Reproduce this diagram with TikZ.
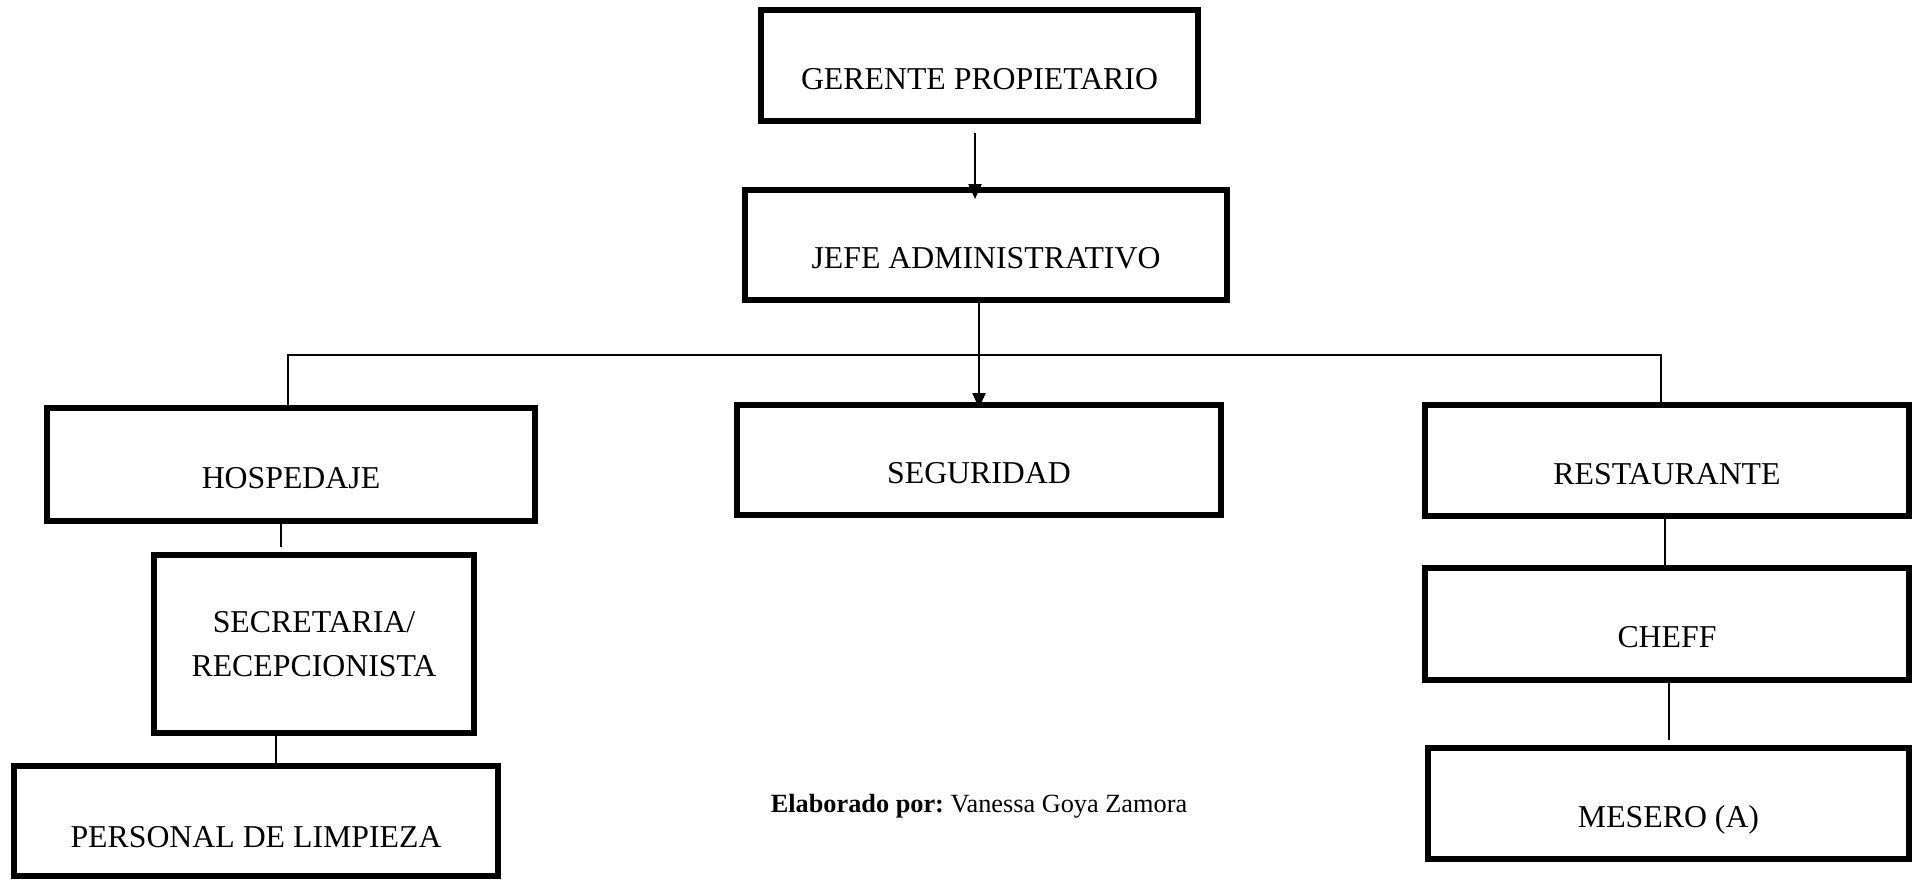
\documentclass[tikz,border=0pt]{standalone}
\usepackage{fontspec}
\setmainfont{Liberation Serif}
\usetikzlibrary{arrows.meta}
\begin{document}
\begin{tikzpicture}[x=1pt,y=-1pt,
  boxbase/.style={draw,line width=6pt,rectangle,inner sep=0pt,outer sep=0pt,
    font=\fontsize{31.8}{44}\selectfont},
  box/.style={boxbase,text height=47pt,text depth=0pt},
  conn/.style={line width=1.8pt},
  arr/.style={line width=2.2pt,-{Triangle[length=15pt,width=13pt]}}]
\useasboundingbox (0,0) rectangle (1913,879);

\node[box,minimum width=437pt,minimum height=111pt] (ger) at (979.5,65.5) {GERENTE PROPIETARIO};
\node[box,minimum width=482pt,minimum height=110pt] (jefe) at (986,245) {JEFE ADMINISTRATIVO};
\node[box,minimum width=488pt,minimum height=113pt] (hosp) at (291,464.5) {HOSPEDAJE};
\node[box,minimum width=484pt,minimum height=110pt] (seg) at (979,460) {SEGURIDAD};
\node[box,minimum width=484pt,minimum height=111pt] (rest) at (1667,460.5) {RESTAURANTE};
\node[boxbase,minimum width=320pt,minimum height=178pt,align=center] (sec) at (314,644) {SECRETARIA/\\RECEPCIONISTA};
\node[box,minimum width=484pt,minimum height=110pt,text height=52pt] (pers) at (256,821) {PERSONAL DE LIMPIEZA};
\node[box,minimum width=484pt,minimum height=112pt] (cheff) at (1667,624) {CHEFF};
\node[box,minimum width=481pt,minimum height=111pt] (mes) at (1668.5,803.5) {MESERO (A)};

\node[font=\fontsize{26.3}{30}\selectfont] (elab) at (979,806) {\textbf{Elaborado por:}\ Vanessa Goya Zamora};

\coordinate (hl) at (0,355);

\draw[arr] ([xshift=-4.5pt,yshift=-12pt]ger.south) -- ([xshift=-11pt,yshift=-9pt]jefe.north);
\draw[arr] ([xshift=-7pt]jefe.south) -- ([yshift=-3pt]seg.north);
\draw[conn] ([xshift=-3pt]hosp.north) |- ([xshift=-6pt]rest.north |- hl) -- ([xshift=-6pt]rest.north);
\draw[conn] ([xshift=-10pt]hosp.south) -- ([xshift=-33pt,yshift=8pt]sec.north);
\draw[conn] ([xshift=-38pt]sec.south) -- ([xshift=20pt]pers.north);
\draw[conn] ([xshift=-2pt]rest.south) -- ([xshift=-2pt]cheff.north);
\draw[conn] ([xshift=2pt]cheff.south) -- ([xshift=0.5pt,yshift=8pt]mes.north);
\end{tikzpicture}
\end{document}
